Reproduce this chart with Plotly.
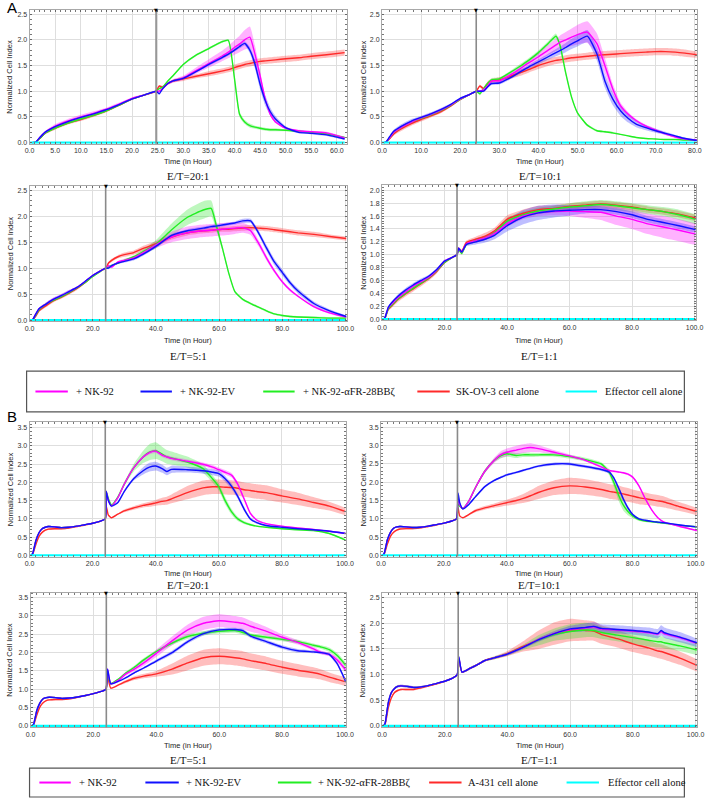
import plotly.graph_objects as go

# ---------------- Panel A : SK-OV-3 target cells ----------------
# E/T = 20:1
A20_T = [0.5, 1.2, 2, 3, 5, 7.5, 10, 12.5, 15, 17.5, 20, 22.5,
         24.7, 25.3, 26, 27, 28, 30, 32.5, 35, 37.5, 38.8, 40, 41, 42, 43, 44, 45, 46, 47, 48, 50, 52.5, 55, 58, 61.5]
A20_NK92 = [0, 0.01, 0.1, 0.2, 0.32, 0.42, 0.5, 0.57, 0.65, 0.75, 0.86, 0.93,
            1.0, 1.0, 1.05, 1.15, 1.2, 1.26, 1.4, 1.54, 1.68, 1.76, 1.85, 1.92, 2.0, 2.05, 1.72, 1.3, 0.85, 0.55, 0.4, 0.28, 0.23, 0.21, 0.19, 0.09]
A20_NK92_SD = [0, 0, 0.01, 0.02, 0.04, 0.04, 0.04, 0.04, 0.03, 0.03, 0.02, 0.02,
               0.01, 0.02, 0.02, 0.02, 0.03, 0.04, 0.06, 0.08, 0.1, 0.12, 0.14, 0.16, 0.19, 0.21, 0.17, 0.1, 0.05, 0.03, 0.02, 0.02, 0.02, 0.02, 0.02, 0.02]
A20_EV = [0, 0.01, 0.1, 0.2, 0.31, 0.41, 0.49, 0.56, 0.64, 0.74, 0.85, 0.93,
          1.0, 0.95, 1.05, 1.15, 1.2, 1.25, 1.38, 1.52, 1.65, 1.72, 1.8, 1.87, 1.93, 1.8, 1.53, 1.14, 0.82, 0.6, 0.46, 0.29, 0.2, 0.18, 0.15, 0.07]
A20_EV_SD = [0, 0, 0.01, 0.01, 0.02, 0.02, 0.02, 0.02, 0.02, 0.02, 0.02, 0.01,
             0.01, 0.02, 0.02, 0.02, 0.02, 0.02, 0.02, 0.03, 0.03, 0.03, 0.03, 0.04, 0.04, 0.06, 0.09, 0.1, 0.1, 0.08, 0.06, 0.03, 0.02, 0.02, 0.02, 0.02]
A20_CAR = [0, 0.01, 0.08, 0.18, 0.28, 0.38, 0.46, 0.53, 0.62, 0.73, 0.85, 0.93,
           1.0, 1.05, 1.08, 1.2, 1.3, 1.52, 1.7, 1.83, 1.96, 1.99, 1.25, 0.55, 0.4, 0.33, 0.3, 0.28, 0.26, 0.25, 0.25, 0.24, 0.22, 0.2, 0.17, 0.1]
A20_CAR_SD = [0, 0, 0.01, 0.01, 0.02, 0.02, 0.02, 0.02, 0.02, 0.02, 0.01, 0.01,
              0.01, 0.02, 0.02, 0.02, 0.02, 0.02, 0.02, 0.02, 0.02, 0.02, 0.04, 0.05, 0.04, 0.04, 0.03, 0.03, 0.03, 0.03, 0.03, 0.02, 0.02, 0.02, 0.02, 0.02]
A20_TUMOR = [0, 0.01, 0.08, 0.18, 0.28, 0.38, 0.45, 0.53, 0.62, 0.73, 0.85, 0.93,
             1.0, 1.1, 1.08, 1.15, 1.2, 1.24, 1.29, 1.34, 1.39, 1.42, 1.46, 1.49, 1.52, 1.54, 1.56, 1.58, 1.59, 1.6, 1.61, 1.63, 1.65, 1.68, 1.71, 1.75]
A20_TUMOR_SD = [0, 0, 0.01, 0.02, 0.03, 0.03, 0.03, 0.03, 0.03, 0.02, 0.02, 0.01,
                0.01, 0.02, 0.03, 0.03, 0.03, 0.04, 0.04, 0.05, 0.05, 0.05, 0.06, 0.06, 0.06, 0.06, 0.06, 0.06, 0.06, 0.06, 0.06, 0.06, 0.06, 0.06, 0.06, 0.06]
A20_EFF_T = [0, 10, 20, 30, 40, 50, 61.5]
A20_EFF = [0, 0, 0, 0, 0, 0, 0]
A20_ADD = 24.7

# E/T = 10:1
A10_T = [0.5, 1, 2, 3, 5, 7.5, 10, 12.5, 15, 17.5, 20, 22.5,
         24.1, 25, 26, 27, 28, 30, 32.5, 35, 37.5, 40, 42.5, 44.5, 45.5, 47, 48.5, 50, 52.5, 55, 57, 59,
         61, 63, 65, 67.5, 70, 72.5, 75, 77.5, 80.5]
A10_NK92 = [0, 0.01, 0.1, 0.2, 0.3, 0.4, 0.48, 0.55, 0.63, 0.73, 0.85, 0.94,
            1.0, 1.0, 1.03, 1.1, 1.2, 1.2, 1.3, 1.42, 1.55, 1.67, 1.8, 1.9, 1.95, 2.0, 2.05, 2.1, 2.15, 1.92, 1.5, 1.05,
            0.72, 0.55, 0.43, 0.32, 0.24, 0.17, 0.11, 0.07, 0.05]
A10_NK92_SD = [0, 0, 0.01, 0.02, 0.03, 0.03, 0.03, 0.03, 0.03, 0.02, 0.02, 0.01,
               0.01, 0.02, 0.02, 0.03, 0.03, 0.03, 0.04, 0.05, 0.06, 0.08, 0.1, 0.12, 0.13, 0.15, 0.17, 0.19, 0.21, 0.2, 0.15, 0.1,
               0.06, 0.04, 0.03, 0.03, 0.03, 0.02, 0.02, 0.02, 0.02]
A10_EV = [0, 0.01, 0.12, 0.22, 0.32, 0.42, 0.49, 0.56, 0.64, 0.74, 0.86, 0.94,
          1.0, 1.0, 1.0, 1.08, 1.15, 1.16, 1.25, 1.36, 1.47, 1.57, 1.67, 1.75, 1.79, 1.85, 1.92, 1.98, 2.07, 1.72, 1.2, 0.85,
          0.62, 0.47, 0.36, 0.29, 0.23, 0.18, 0.13, 0.08, 0.04]
A10_EV_SD = [0, 0, 0.02, 0.03, 0.04, 0.04, 0.03, 0.03, 0.03, 0.02, 0.02, 0.01,
             0.01, 0.02, 0.02, 0.02, 0.03, 0.03, 0.03, 0.04, 0.04, 0.05, 0.06, 0.07, 0.08, 0.09, 0.1, 0.11, 0.12, 0.13, 0.13, 0.12,
             0.1, 0.08, 0.06, 0.05, 0.04, 0.03, 0.02, 0.02, 0.02]
A10_CAR = [0, 0.01, 0.1, 0.2, 0.3, 0.4, 0.47, 0.54, 0.62, 0.72, 0.84, 0.94,
           1.0, 0.95, 1.05, 1.15, 1.22, 1.24, 1.35, 1.47, 1.6, 1.75, 1.93, 2.07, 1.9, 1.35, 0.88, 0.58, 0.34, 0.23, 0.21, 0.19,
           0.16, 0.13, 0.1, 0.08, 0.07, 0.06, 0.06, 0.05, 0.05]
A10_CAR_SD = [0, 0, 0.01, 0.01, 0.02, 0.02, 0.02, 0.02, 0.02, 0.02, 0.01, 0.01,
              0.01, 0.03, 0.03, 0.03, 0.03, 0.03, 0.03, 0.04, 0.04, 0.04, 0.04, 0.05, 0.05, 0.04, 0.03, 0.02, 0.02, 0.02, 0.02, 0.02,
              0.01, 0.01, 0.01, 0.01, 0.01, 0.01, 0.01, 0.01, 0.01]
A10_TUMOR = [0, 0.01, 0.08, 0.17, 0.27, 0.37, 0.45, 0.52, 0.6, 0.71, 0.84, 0.94,
             1.0, 1.1, 1.05, 1.15, 1.2, 1.22, 1.28, 1.35, 1.42, 1.5, 1.56, 1.6, 1.61, 1.63, 1.65, 1.66, 1.68, 1.7, 1.71, 1.72,
             1.73, 1.74, 1.75, 1.76, 1.77, 1.77, 1.76, 1.74, 1.71]
A10_TUMOR_SD = [0, 0, 0.01, 0.03, 0.04, 0.04, 0.04, 0.03, 0.03, 0.02, 0.02, 0.01,
                0.01, 0.03, 0.03, 0.04, 0.04, 0.05, 0.05, 0.06, 0.06, 0.07, 0.07, 0.07, 0.07, 0.07, 0.07, 0.07, 0.07, 0.07, 0.07, 0.07,
                0.07, 0.07, 0.07, 0.07, 0.07, 0.07, 0.07, 0.07, 0.06]
A10_EFF_T = [0, 20, 40, 60, 80.5]
A10_EFF = [0, 0, 0, 0, 0]
A10_ADD = 24.1

# E/T = 5:1
A5_T = [0.5, 1, 2, 3, 5, 7.5, 10, 12.5, 15, 17.5, 20, 22.5,
        24.1, 25, 26, 28, 30, 33, 36, 40, 45, 50, 55, 57.5, 59, 61, 63, 65, 67.5, 70, 72.5, 75,
        77.5, 80, 82.5, 85, 90, 95, 100.3]
A5_NK92 = [0, 0.01, 0.12, 0.22, 0.3, 0.4, 0.47, 0.55, 0.63, 0.74, 0.86, 0.95,
           1.0, 1.05, 1.02, 1.12, 1.15, 1.2, 1.3, 1.45, 1.6, 1.68, 1.72, 1.73, 1.74, 1.75, 1.76, 1.77, 1.78, 1.72, 1.48, 1.2,
           0.95, 0.74, 0.58, 0.46, 0.26, 0.14, 0.06]
A5_NK92_SD = [0, 0, 0.01, 0.02, 0.03, 0.03, 0.03, 0.03, 0.02, 0.02, 0.02, 0.01,
              0.01, 0.02, 0.02, 0.02, 0.03, 0.03, 0.04, 0.06, 0.1, 0.12, 0.12, 0.12, 0.12, 0.12, 0.12, 0.11, 0.1, 0.08, 0.06, 0.05,
              0.04, 0.03, 0.03, 0.02, 0.02, 0.02, 0.02]
A5_EV = [0, 0.01, 0.12, 0.22, 0.3, 0.4, 0.47, 0.55, 0.63, 0.74, 0.86, 0.95,
         1.0, 1.0, 1.05, 1.1, 1.13, 1.18, 1.27, 1.42, 1.63, 1.72, 1.77, 1.8, 1.81, 1.83, 1.85, 1.87, 1.91, 1.91, 1.68, 1.39,
         1.12, 0.92, 0.72, 0.56, 0.32, 0.18, 0.07]
A5_EV_SD = [0, 0, 0.01, 0.02, 0.03, 0.03, 0.03, 0.03, 0.02, 0.02, 0.02, 0.01,
            0.01, 0.02, 0.02, 0.02, 0.02, 0.03, 0.03, 0.03, 0.03, 0.03, 0.03, 0.03, 0.03, 0.03, 0.03, 0.03, 0.04, 0.04, 0.05, 0.06,
            0.06, 0.06, 0.05, 0.05, 0.04, 0.03, 0.02]
A5_CAR = [0, 0.01, 0.1, 0.2, 0.3, 0.38, 0.45, 0.53, 0.62, 0.72, 0.84, 0.94,
          1.0, 1.02, 1.05, 1.1, 1.15, 1.22, 1.32, 1.46, 1.74, 1.98, 2.12, 2.15, 1.85, 1.4, 0.92, 0.55, 0.4, 0.32, 0.25, 0.18,
          0.12, 0.09, 0.07, 0.06, 0.05, 0.04, 0.04]
A5_CAR_SD = [0, 0, 0.01, 0.01, 0.02, 0.02, 0.02, 0.02, 0.02, 0.02, 0.01, 0.01,
             0.01, 0.02, 0.02, 0.02, 0.02, 0.03, 0.04, 0.08, 0.12, 0.15, 0.17, 0.15, 0.1, 0.05, 0.03, 0.02, 0.02, 0.02, 0.02, 0.02,
             0.02, 0.02, 0.02, 0.02, 0.02, 0.02, 0.02]
A5_TUMOR = [0, 0.01, 0.08, 0.18, 0.27, 0.37, 0.44, 0.52, 0.61, 0.72, 0.85, 0.95,
            1.0, 1.1, 1.15, 1.22, 1.26, 1.3, 1.38, 1.47, 1.6, 1.68, 1.72, 1.73, 1.74, 1.75, 1.75, 1.76, 1.77, 1.78, 1.77, 1.76,
            1.74, 1.72, 1.7, 1.68, 1.65, 1.61, 1.57]
A5_TUMOR_SD = [0, 0, 0.01, 0.02, 0.03, 0.03, 0.03, 0.03, 0.03, 0.02, 0.02, 0.01,
               0.01, 0.02, 0.03, 0.03, 0.04, 0.04, 0.05, 0.05, 0.05, 0.05, 0.05, 0.05, 0.05, 0.05, 0.05, 0.05, 0.05, 0.05, 0.05, 0.05,
               0.05, 0.05, 0.05, 0.05, 0.05, 0.04, 0.04]
A5_EFF_T = [0, 25, 50, 75, 100.3]
A5_EFF = [0, 0, 0, 0, 0]
A5_ADD = 24.1

# E/T = 1:1
A1_T = [0.5, 1, 2, 3, 5, 7.5, 10, 12.5, 15, 17.5, 20, 22.5,
        24, 24.5, 25.5, 27, 30, 33, 36, 40, 45, 50, 55, 60, 65, 70, 75, 80, 85, 90, 95, 100.3]
A1_NK92 = [0, 0.03, 0.18, 0.23, 0.33, 0.42, 0.51, 0.58, 0.65, 0.76, 0.9, 0.96,
           1.0, 1.1, 1.04, 1.17, 1.22, 1.26, 1.33, 1.48, 1.6, 1.65, 1.67, 1.68, 1.67, 1.66, 1.6, 1.55, 1.48, 1.43, 1.38, 1.32]
A1_NK92_SD = [0, 0.01, 0.02, 0.02, 0.03, 0.03, 0.03, 0.03, 0.02, 0.02, 0.02, 0.01,
              0.01, 0.02, 0.02, 0.02, 0.03, 0.03, 0.04, 0.05, 0.05, 0.05, 0.06, 0.08, 0.1, 0.12, 0.14, 0.15, 0.16, 0.17, 0.17, 0.17]
A1_EV = [0, 0.03, 0.18, 0.25, 0.35, 0.45, 0.53, 0.6, 0.67, 0.77, 0.9, 0.96,
         1.0, 1.1, 1.04, 1.16, 1.2, 1.24, 1.3, 1.45, 1.58, 1.65, 1.68, 1.69, 1.7, 1.7, 1.67, 1.62, 1.55, 1.5, 1.45, 1.39]
A1_EV_SD = [0, 0.01, 0.02, 0.02, 0.03, 0.03, 0.03, 0.03, 0.02, 0.02, 0.02, 0.01,
            0.01, 0.02, 0.03, 0.03, 0.04, 0.05, 0.06, 0.09, 0.11, 0.11, 0.1, 0.08, 0.06, 0.05, 0.05, 0.05, 0.05, 0.05, 0.05, 0.05]
A1_CAR = [0, 0.02, 0.16, 0.21, 0.31, 0.4, 0.48, 0.56, 0.64, 0.75, 0.88, 0.96,
          1.0, 1.08, 1.02, 1.16, 1.22, 1.26, 1.34, 1.52, 1.62, 1.68, 1.71, 1.74, 1.76, 1.78, 1.76, 1.73, 1.7, 1.67, 1.62, 1.55]
A1_CAR_SD = [0, 0.01, 0.01, 0.02, 0.02, 0.02, 0.02, 0.02, 0.02, 0.02, 0.01, 0.01,
             0.01, 0.02, 0.02, 0.02, 0.03, 0.03, 0.04, 0.05, 0.05, 0.05, 0.05, 0.06, 0.07, 0.07, 0.07, 0.07, 0.07, 0.07, 0.08, 0.08]
A1_TUMOR = [0, 0.02, 0.15, 0.2, 0.3, 0.39, 0.47, 0.55, 0.63, 0.74, 0.88, 0.96,
            1.0, 1.1, 1.05, 1.19, 1.24, 1.29, 1.37, 1.55, 1.64, 1.7, 1.72, 1.75, 1.77, 1.79, 1.77, 1.74, 1.7, 1.67, 1.63, 1.57]
A1_TUMOR_SD = [0, 0.01, 0.02, 0.03, 0.04, 0.04, 0.04, 0.04, 0.03, 0.03, 0.02, 0.01,
               0.01, 0.02, 0.03, 0.03, 0.04, 0.05, 0.05, 0.06, 0.06, 0.06, 0.05, 0.05, 0.05, 0.05, 0.05, 0.05, 0.05, 0.05, 0.05, 0.05]
A1_EFF_T = [0, 25, 50, 75, 100.3]
A1_EFF = [0, 0, 0, 0, 0]
A1_ADD = 24.0

# ---------------- Panel B : A-431 target cells ----------------
# E/T = 20:1
B20_T = [0.5, 1, 2, 3, 4, 5, 6, 8, 10, 12.5, 15, 17.5, 20, 22.5,
         24, 24.3, 25, 26, 28, 30, 33, 36, 38, 40, 42, 43.5, 45, 50, 55, 58, 60, 62, 64, 66,
         68, 70, 72, 75, 80, 85, 90, 95, 100.2]
B20_NK92 = [0, 0.05, 0.4, 0.62, 0.73, 0.77, 0.79, 0.78, 0.76, 0.77, 0.8, 0.84, 0.88, 0.94,
            1.0, 1.75, 1.5, 1.36, 1.58, 1.95, 2.4, 2.7, 2.82, 2.86, 2.75, 2.7, 2.66, 2.58, 2.5, 2.42, 2.35, 2.28, 2.2, 1.95,
            1.55, 1.15, 0.97, 0.87, 0.8, 0.75, 0.71, 0.66, 0.6]
B20_NK92_SD = [0, 0.01, 0.02, 0.02, 0.02, 0.02, 0.02, 0.02, 0.02, 0.02, 0.01, 0.01, 0.01, 0.01,
               0.01, 0.03, 0.03, 0.03, 0.03, 0.03, 0.03, 0.04, 0.05, 0.05, 0.05, 0.05, 0.05, 0.05, 0.05, 0.06, 0.06, 0.06, 0.06, 0.06,
               0.05, 0.04, 0.03, 0.02, 0.02, 0.02, 0.02, 0.02, 0.02]
B20_EV = [0, 0.05, 0.4, 0.62, 0.73, 0.77, 0.79, 0.78, 0.76, 0.77, 0.8, 0.84, 0.88, 0.94,
          1.0, 1.75, 1.5, 1.35, 1.45, 1.75, 2.1, 2.32, 2.42, 2.45, 2.38, 2.3, 2.36, 2.35, 2.32, 2.28, 2.24, 2.1, 1.9, 1.62,
          1.27, 1.0, 0.9, 0.82, 0.77, 0.73, 0.7, 0.66, 0.6]
B20_EV_SD = [0, 0.01, 0.02, 0.02, 0.02, 0.02, 0.02, 0.02, 0.02, 0.02, 0.01, 0.01, 0.01, 0.01,
             0.01, 0.03, 0.03, 0.03, 0.03, 0.04, 0.05, 0.1, 0.12, 0.12, 0.11, 0.1, 0.1, 0.08, 0.08, 0.08, 0.08, 0.08, 0.08, 0.07,
             0.06, 0.04, 0.03, 0.02, 0.02, 0.02, 0.02, 0.02, 0.02]
B20_CAR = [0, 0.05, 0.4, 0.62, 0.73, 0.77, 0.79, 0.78, 0.76, 0.77, 0.8, 0.84, 0.88, 0.94,
           1.0, 1.75, 1.55, 1.38, 1.6, 1.95, 2.4, 2.7, 2.83, 2.87, 2.78, 2.7, 2.67, 2.56, 2.38, 2.1, 1.88, 1.5, 1.2, 1.0,
           0.9, 0.84, 0.8, 0.77, 0.73, 0.7, 0.68, 0.6, 0.42]
B20_CAR_SD = [0, 0.01, 0.02, 0.02, 0.02, 0.02, 0.02, 0.02, 0.02, 0.02, 0.01, 0.01, 0.01, 0.01,
              0.01, 0.03, 0.03, 0.03, 0.04, 0.06, 0.1, 0.17, 0.22, 0.23, 0.2, 0.19, 0.18, 0.15, 0.12, 0.1, 0.1, 0.1, 0.08, 0.06,
              0.04, 0.03, 0.02, 0.02, 0.02, 0.02, 0.02, 0.02, 0.02]
B20_TUMOR = [0, 0.03, 0.3, 0.52, 0.63, 0.69, 0.72, 0.73, 0.73, 0.75, 0.79, 0.83, 0.88, 0.94,
             1.0, 1.35, 1.1, 1.03, 1.13, 1.22, 1.3, 1.37, 1.4, 1.44, 1.48, 1.5, 1.55, 1.72, 1.85, 1.88, 1.88, 1.87, 1.86, 1.84,
             1.8, 1.78, 1.75, 1.72, 1.63, 1.55, 1.45, 1.35, 1.2]
B20_TUMOR_SD = [0, 0.01, 0.02, 0.02, 0.02, 0.02, 0.02, 0.02, 0.02, 0.02, 0.01, 0.01, 0.01, 0.01,
                0.01, 0.02, 0.02, 0.02, 0.02, 0.04, 0.05, 0.06, 0.07, 0.08, 0.1, 0.11, 0.12, 0.18, 0.2, 0.2, 0.2, 0.2, 0.2, 0.2,
                0.2, 0.2, 0.2, 0.2, 0.18, 0.17, 0.15, 0.12, 0.1]
B20_EFF_T = [0, 25, 50, 75, 100.2]
B20_EFF = [0, 0, 0, 0, 0]
B20_ADD = 24.0

# E/T = 10:1
B10_T = [0.5, 1, 2, 3, 4, 5, 6, 8, 10, 12.5, 15, 17.5, 20, 22.5,
         24, 24.5, 25, 26, 28, 30, 33, 36, 38, 40, 43, 45, 47.5, 50, 55, 60, 65, 70, 72.5, 74,
         75.5, 77, 78.5, 80, 82, 84, 86, 88, 90, 95, 100.4]
B10_NK92 = [0, 0.05, 0.42, 0.63, 0.74, 0.78, 0.79, 0.78, 0.76, 0.77, 0.8, 0.84, 0.88, 0.94,
            1.0, 1.6, 1.4, 1.28, 1.5, 1.85, 2.3, 2.6, 2.75, 2.82, 2.88, 2.92, 2.95, 2.92, 2.82, 2.72, 2.6, 2.42, 2.32, 2.3,
            2.28, 2.26, 2.22, 2.14, 1.9, 1.55, 1.25, 1.03, 0.91, 0.79, 0.68]
B10_NK92_SD = [0, 0.01, 0.02, 0.02, 0.02, 0.02, 0.02, 0.02, 0.02, 0.02, 0.01, 0.01, 0.01, 0.01,
               0.01, 0.03, 0.03, 0.03, 0.03, 0.04, 0.05, 0.07, 0.09, 0.1, 0.12, 0.12, 0.12, 0.1, 0.06, 0.04, 0.03, 0.03, 0.03, 0.03,
               0.03, 0.03, 0.03, 0.03, 0.03, 0.03, 0.02, 0.02, 0.02, 0.02, 0.02]
B10_EV = [0, 0.05, 0.42, 0.63, 0.74, 0.78, 0.79, 0.78, 0.76, 0.77, 0.8, 0.84, 0.88, 0.94,
          1.0, 1.7, 1.45, 1.27, 1.4, 1.6, 1.88, 2.05, 2.13, 2.2, 2.27, 2.32, 2.38, 2.44, 2.5, 2.5, 2.43, 2.35, 2.28, 2.12,
          1.85, 1.55, 1.3, 1.12, 1.0, 0.96, 0.93, 0.91, 0.89, 0.83, 0.78]
B10_EV_SD = [0, 0.01, 0.02, 0.02, 0.02, 0.02, 0.02, 0.02, 0.02, 0.02, 0.01, 0.01, 0.01, 0.01,
             0.01, 0.03, 0.03, 0.03, 0.03, 0.03, 0.03, 0.03, 0.03, 0.03, 0.03, 0.03, 0.03, 0.03, 0.04, 0.04, 0.04, 0.04, 0.04, 0.05,
             0.06, 0.06, 0.05, 0.04, 0.03, 0.02, 0.02, 0.02, 0.02, 0.02, 0.02]
B10_CAR = [0, 0.05, 0.42, 0.63, 0.74, 0.78, 0.79, 0.78, 0.76, 0.77, 0.8, 0.84, 0.88, 0.94,
           1.0, 1.4, 1.35, 1.28, 1.5, 1.85, 2.3, 2.6, 2.72, 2.78, 2.73, 2.75, 2.75, 2.75, 2.75, 2.7, 2.62, 2.5, 2.28, 2.0,
           1.65, 1.38, 1.2, 1.08, 0.98, 0.94, 0.92, 0.9, 0.88, 0.82, 0.78]
B10_CAR_SD = [0, 0.01, 0.02, 0.02, 0.02, 0.02, 0.02, 0.02, 0.02, 0.02, 0.01, 0.01, 0.01, 0.01,
              0.01, 0.03, 0.03, 0.03, 0.03, 0.04, 0.05, 0.05, 0.07, 0.08, 0.07, 0.06, 0.06, 0.05, 0.05, 0.05, 0.05, 0.05, 0.08, 0.12,
              0.15, 0.15, 0.1, 0.06, 0.04, 0.03, 0.03, 0.02, 0.02, 0.02, 0.02]
B10_TUMOR = [0, 0.03, 0.3, 0.52, 0.63, 0.69, 0.72, 0.73, 0.73, 0.75, 0.79, 0.83, 0.88, 0.94,
             1.0, 1.3, 1.08, 1.03, 1.12, 1.22, 1.3, 1.36, 1.4, 1.44, 1.5, 1.55, 1.63, 1.72, 1.85, 1.9, 1.87, 1.8, 1.75, 1.73,
             1.71, 1.68, 1.65, 1.62, 1.58, 1.55, 1.52, 1.49, 1.46, 1.33, 1.2]
B10_TUMOR_SD = [0, 0.01, 0.02, 0.02, 0.02, 0.02, 0.02, 0.02, 0.02, 0.02, 0.01, 0.01, 0.01, 0.01,
                0.01, 0.02, 0.02, 0.02, 0.02, 0.04, 0.05, 0.06, 0.07, 0.08, 0.1, 0.12, 0.15, 0.18, 0.2, 0.22, 0.21, 0.2, 0.2, 0.2,
                0.2, 0.19, 0.19, 0.18, 0.18, 0.17, 0.16, 0.16, 0.15, 0.12, 0.1]
B10_EFF_T = [0, 25, 50, 75, 100.4]
B10_EFF = [0, 0, 0, 0, 0]
B10_ADD = 24.3

# E/T = 5:1
B5_T = [0.5, 1, 2, 3, 4, 5, 6, 8, 10, 12.5, 15, 17.5, 20, 22.5,
        24, 24.5, 25.5, 28, 30, 33, 36, 40, 45, 50, 55, 60, 65, 67.5, 70, 75, 80, 85, 90, 92.5,
        95, 97.5, 100.3]
B5_NK92 = [0, 0.05, 0.42, 0.63, 0.74, 0.77, 0.78, 0.77, 0.75, 0.76, 0.79, 0.83, 0.88, 0.94,
           1.0, 1.55, 1.15, 1.25, 1.4, 1.55, 1.72, 1.98, 2.32, 2.62, 2.8, 2.87, 2.83, 2.8, 2.72, 2.58, 2.42, 2.28, 2.1, 2.0,
           1.95, 1.8, 1.52]
B5_NK92_SD = [0, 0.01, 0.02, 0.02, 0.02, 0.02, 0.02, 0.02, 0.02, 0.02, 0.01, 0.01, 0.01, 0.01,
              0.01, 0.03, 0.03, 0.04, 0.05, 0.06, 0.08, 0.1, 0.12, 0.15, 0.18, 0.18, 0.17, 0.16, 0.15, 0.12, 0.08, 0.06, 0.05, 0.05,
              0.05, 0.06, 0.08]
B5_EV = [0, 0.05, 0.42, 0.63, 0.74, 0.77, 0.78, 0.77, 0.75, 0.76, 0.79, 0.83, 0.88, 0.94,
         1.0, 1.55, 1.15, 1.22, 1.3, 1.45, 1.58, 1.77, 2.0, 2.3, 2.52, 2.62, 2.63, 2.6, 2.45, 2.3, 2.15, 2.05, 2.02, 2.0,
         1.95, 1.7, 1.2]
B5_EV_SD = [0, 0.01, 0.02, 0.02, 0.02, 0.02, 0.02, 0.02, 0.02, 0.02, 0.01, 0.01, 0.01, 0.01,
            0.01, 0.03, 0.03, 0.03, 0.03, 0.03, 0.03, 0.04, 0.05, 0.05, 0.05, 0.05, 0.05, 0.05, 0.05, 0.05, 0.05, 0.05, 0.04, 0.04,
            0.04, 0.05, 0.06]
B5_CAR = [0, 0.05, 0.42, 0.63, 0.74, 0.77, 0.78, 0.77, 0.75, 0.76, 0.79, 0.83, 0.88, 0.94,
          1.0, 1.4, 1.15, 1.28, 1.42, 1.6, 1.8, 2.03, 2.26, 2.44, 2.53, 2.58, 2.6, 2.55, 2.48, 2.42, 2.36, 2.3, 2.2, 2.15,
          2.08, 1.92, 1.65]
B5_CAR_SD = [0, 0.01, 0.02, 0.02, 0.02, 0.02, 0.02, 0.02, 0.02, 0.02, 0.01, 0.01, 0.01, 0.01,
             0.01, 0.03, 0.03, 0.03, 0.04, 0.04, 0.05, 0.05, 0.05, 0.06, 0.06, 0.06, 0.06, 0.06, 0.05, 0.05, 0.05, 0.05, 0.05, 0.05,
             0.06, 0.07, 0.08]
B5_TUMOR = [0, 0.03, 0.3, 0.52, 0.63, 0.69, 0.71, 0.72, 0.72, 0.74, 0.78, 0.83, 0.88, 0.94,
            1.0, 1.35, 1.03, 1.12, 1.2, 1.3, 1.36, 1.42, 1.55, 1.72, 1.86, 1.9, 1.86, 1.83, 1.78, 1.7, 1.6, 1.52, 1.45, 1.4,
            1.33, 1.27, 1.2]
B5_TUMOR_SD = [0, 0.01, 0.02, 0.02, 0.02, 0.02, 0.02, 0.02, 0.02, 0.02, 0.01, 0.01, 0.01, 0.01,
               0.01, 0.02, 0.02, 0.02, 0.04, 0.05, 0.06, 0.08, 0.15, 0.2, 0.22, 0.22, 0.21, 0.21, 0.2, 0.19, 0.18, 0.17, 0.15, 0.14,
               0.13, 0.12, 0.12]
B5_EFF_T = [0, 25, 50, 75, 100.3]
B5_EFF = [0, 0, 0, 0, 0]
B5_ADD = 24.1

# E/T = 1:1
B1_T = [0.5, 1, 2, 3, 4, 5, 6, 8, 10, 12.5, 15, 17.5, 20, 22.5,
        24, 24.5, 25.5, 28, 30, 33, 36, 40, 45, 50, 55, 60, 65, 67.5, 70, 75, 80, 85, 88, 89,
        90, 95, 100.4]
B1_NK92 = [0, 0.05, 0.45, 0.65, 0.73, 0.77, 0.78, 0.77, 0.75, 0.76, 0.79, 0.83, 0.87, 0.93,
           1.0, 1.33, 1.05, 1.12, 1.18, 1.28, 1.33, 1.4, 1.53, 1.68, 1.8, 1.88, 1.91, 1.93, 1.89, 1.87, 1.85, 1.82, 1.79, 1.84,
           1.8, 1.72, 1.61]
B1_NK92_SD = [0, 0.01, 0.02, 0.02, 0.02, 0.02, 0.02, 0.02, 0.02, 0.02, 0.01, 0.01, 0.01, 0.01,
              0.01, 0.02, 0.02, 0.02, 0.02, 0.02, 0.02, 0.02, 0.02, 0.03, 0.03, 0.03, 0.03, 0.03, 0.03, 0.03, 0.03, 0.03, 0.03, 0.03,
              0.03, 0.03, 0.03]
B1_EV = [0, 0.05, 0.45, 0.65, 0.73, 0.77, 0.78, 0.77, 0.75, 0.76, 0.79, 0.83, 0.87, 0.93,
         1.0, 1.35, 1.05, 1.12, 1.18, 1.28, 1.33, 1.4, 1.53, 1.68, 1.8, 1.89, 1.92, 1.94, 1.9, 1.88, 1.86, 1.83, 1.8, 1.86,
         1.82, 1.73, 1.62]
B1_EV_SD = [0, 0.01, 0.02, 0.02, 0.02, 0.02, 0.02, 0.02, 0.02, 0.02, 0.01, 0.01, 0.01, 0.01,
            0.01, 0.02, 0.02, 0.02, 0.02, 0.02, 0.02, 0.03, 0.03, 0.04, 0.05, 0.06, 0.08, 0.08, 0.08, 0.08, 0.08, 0.09, 0.09, 0.1,
            0.1, 0.1, 0.08]
B1_CAR = [0, 0.05, 0.45, 0.65, 0.73, 0.77, 0.78, 0.77, 0.75, 0.76, 0.79, 0.83, 0.87, 0.93,
          1.0, 1.3, 1.05, 1.12, 1.18, 1.28, 1.33, 1.4, 1.53, 1.67, 1.78, 1.84, 1.87, 1.86, 1.82, 1.77, 1.72, 1.67, 1.64, 1.64,
          1.62, 1.56, 1.48]
B1_CAR_SD = [0, 0.01, 0.02, 0.02, 0.02, 0.02, 0.02, 0.02, 0.02, 0.02, 0.01, 0.01, 0.01, 0.01,
             0.01, 0.02, 0.02, 0.02, 0.02, 0.02, 0.03, 0.03, 0.05, 0.1, 0.12, 0.14, 0.14, 0.13, 0.12, 0.12, 0.12, 0.12, 0.11, 0.11,
             0.11, 0.1, 0.1]
B1_TUMOR = [0, 0.03, 0.35, 0.55, 0.65, 0.69, 0.71, 0.71, 0.71, 0.74, 0.78, 0.82, 0.87, 0.93,
            1.0, 1.3, 1.05, 1.12, 1.18, 1.28, 1.33, 1.41, 1.55, 1.68, 1.8, 1.87, 1.86, 1.85, 1.78, 1.7, 1.6, 1.52, 1.46, 1.45,
            1.43, 1.32, 1.18]
B1_TUMOR_SD = [0, 0.01, 0.02, 0.02, 0.02, 0.02, 0.02, 0.02, 0.02, 0.02, 0.01, 0.01, 0.01, 0.01,
               0.01, 0.02, 0.02, 0.02, 0.02, 0.02, 0.03, 0.05, 0.1, 0.18, 0.22, 0.22, 0.2, 0.19, 0.18, 0.17, 0.16, 0.15, 0.14, 0.14,
               0.14, 0.13, 0.12]
B1_EFF_T = [0, 25, 50, 75, 100.4]
B1_EFF = [0, 0, 0, 0, 0]
B1_ADD = 24.3

NAMES_A = ["+ NK-92", "+ NK-92-EV", "+ NK-92-αFR-28BBζ", "SK-OV-3 cell alone", "Effector cell alone"]
NAMES_B = ["+ NK-92", "+ NK-92-EV", "+ NK-92-αFR-28BBζ", "A-431 cell alone", "Effector cell alone"]
LINE_COLORS = ["#ff00ff", "#1010ff", "#22ee22", "#ff2a2a", "#00ffff"]
BAND_COLORS = ["rgba(255,0,255,0.30)", "rgba(40,40,255,0.30)", "rgba(40,230,40,0.30)",
               "rgba(255,40,40,0.30)", "rgba(0,255,255,0.3)"]
DRAW_ORDER = [3, 2, 0, 1]

W, H = 713, 800
SANS = "Liberation Sans, Arial, sans-serif"
SERIF = "Liberation Serif, Times New Roman, serif"

# panel: data, frame box in px (left, right, top, bottom), x max, y range, x dtick, x minor, y dtick, caption,
#        y of "Time" label and caption in px
PANELS = [
    (A20_T, [A20_NK92, A20_EV, A20_CAR, A20_TUMOR], [A20_NK92_SD, A20_EV_SD, A20_CAR_SD, A20_TUMOR_SD],
     A20_EFF_T, A20_EFF, A20_ADD, (25, 348, 10, 144), 61.9, (-0.02, 2.58), 5, 1, 0.5, "E/T=20:1", 162, 176),
    (A10_T, [A10_NK92, A10_EV, A10_CAR, A10_TUMOR], [A10_NK92_SD, A10_EV_SD, A10_CAR_SD, A10_TUMOR_SD],
     A10_EFF_T, A10_EFF, A10_ADD, (384, 705, 10, 144), 80.6, (-0.02, 2.58), 10, 2, 0.5, "E/T=10:1", 162, 176),
    (A5_T, [A5_NK92, A5_EV, A5_CAR, A5_TUMOR], [A5_NK92_SD, A5_EV_SD, A5_CAR_SD, A5_TUMOR_SD],
     A5_EFF_T, A5_EFF, A5_ADD, (25, 348, 186, 322), 100.4, (-0.02, 2.59), 20, 2, 0.5, "E/T=5:1", 341, 357),
    (A1_T, [A1_NK92, A1_EV, A1_CAR, A1_TUMOR], [A1_NK92_SD, A1_EV_SD, A1_CAR_SD, A1_TUMOR_SD],
     A1_EFF_T, A1_EFF, A1_ADD, (384, 704, 185, 321), 100.5, (-0.017, 2.09), 20, 2, 0.2, "E/T=1:1", 341, 357),
    (B20_T, [B20_NK92, B20_EV, B20_CAR, B20_TUMOR], [B20_NK92_SD, B20_EV_SD, B20_CAR_SD, B20_TUMOR_SD],
     B20_EFF_T, B20_EFF, B20_ADD, (25, 347, 423, 558), 100.2, (-0.035, 3.66), 20, 2, 0.5, "E/T=20:1", 575, 586),
    (B10_T, [B10_NK92, B10_EV, B10_CAR, B10_TUMOR], [B10_NK92_SD, B10_EV_SD, B10_CAR_SD, B10_TUMOR_SD],
     B10_EFF_T, B10_EFF, B10_ADD, (383, 705, 423, 558), 100.5, (-0.035, 3.65), 20, 2, 0.5, "E/T=10:1", 575, 586),
    (B5_T, [B5_NK92, B5_EV, B5_CAR, B5_TUMOR], [B5_NK92_SD, B5_EV_SD, B5_CAR_SD, B5_TUMOR_SD],
     B5_EFF_T, B5_EFF, B5_ADD, (26, 347, 594, 729), 100.2, (-0.035, 3.64), 20, 2, 0.5, "E/T=5:1", 747, 762),
    (B1_T, [B1_NK92, B1_EV, B1_CAR, B1_TUMOR], [B1_NK92_SD, B1_EV_SD, B1_CAR_SD, B1_TUMOR_SD],
     B1_EFF_T, B1_EFF, B1_ADD, (384, 705, 594, 729), 100.5, (-0.025, 2.6), 20, 2, 0.5, "E/T=1:1", 747, 762),
]


def px_x(x):
    return x / W


def px_y(y):
    return 1 - y / H


def note(x, y, text, font, xanchor="center", yanchor="middle", **kw):
    # paper-anchored text placed by pixel position
    return dict(x=px_x(x), y=px_y(y), xref="paper", yref="paper", text=text, showarrow=False,
                xanchor=xanchor, yanchor=yanchor, font=font, **kw)


fig = go.Figure()
annotations = []
shapes = []

for i, (t, vals, sds, eff_t, eff, add, box, xmax, yr, xdt, xminor, ydt, caption, ty, cy) in enumerate(PANELS, start=1):
    xa = "x" if i == 1 else f"x{i}"
    ya = "y" if i == 1 else f"y{i}"
    left, right, top, bottom = box

    # error bands
    for j in DRAW_ORDER:
        upper = [v + e for v, e in zip(vals[j], sds[j])]
        lower = [v - e for v, e in zip(vals[j], sds[j])]
        fig.add_trace(go.Scatter(x=t, y=upper, mode="lines", line=dict(width=0, shape="spline", smoothing=0.5),
                                 xaxis=xa, yaxis=ya, hoverinfo="skip", showlegend=False))
        fig.add_trace(go.Scatter(x=t, y=lower, mode="lines", line=dict(width=0, shape="spline", smoothing=0.5),
                                 fill="tonexty", fillcolor=BAND_COLORS[j],
                                 xaxis=xa, yaxis=ya, hoverinfo="skip", showlegend=False))
    # mean curves
    for j in DRAW_ORDER:
        fig.add_trace(go.Scatter(x=t, y=vals[j], mode="lines",
                                 line=dict(color=LINE_COLORS[j], width=1.4, shape="spline", smoothing=0.5),
                                 xaxis=xa, yaxis=ya, showlegend=False,
                                 name=(NAMES_A if i <= 4 else NAMES_B)[j]))
    fig.add_trace(go.Scatter(x=eff_t, y=eff, mode="lines", line=dict(color=LINE_COLORS[4], width=2.2),
                             xaxis=xa, yaxis=ya, showlegend=False, name="Effector cell alone"))

    axis_common = dict(showgrid=True, gridcolor="#dedede", gridwidth=1, zeroline=False,
                       showline=True, linecolor="#a8a8a8", linewidth=1, mirror="ticks",
                       ticks="inside", ticklen=2, tickcolor="#666", tickformat=".1f",
                       tickfont=dict(family=SANS, size=7, color="#333"))
    fig.layout[f"xaxis{'' if i == 1 else i}"] = dict(
        axis_common, domain=[px_x(left), px_x(right)], range=[0, xmax], dtick=xdt, tick0=0, anchor=ya,
        minor=dict(dtick=xminor, ticks="inside", ticklen=2, tickcolor="#777", showgrid=False))
    fig.layout[f"yaxis{'' if i == 1 else i}"] = dict(
        axis_common, domain=[px_y(bottom), px_y(top)], range=list(yr), dtick=ydt, tick0=0, anchor=xa,
        minor=dict(dtick=ydt / 5, ticks="inside", ticklen=2, tickcolor="#777", showgrid=False))

    # compound addition time marker
    shapes.append(dict(type="line", xref=xa, yref=f"{ya} domain", x0=add, x1=add, y0=0, y1=1,
                       line=dict(color="#8a8a8a", width=1.6)))
    annotations.append(dict(x=add, y=1, xref=xa, yref=f"{ya} domain", text="▼", showarrow=False,
                            xanchor="center", yanchor="middle",
                            font=dict(family="DejaVu Sans", size=5, color="black")))

    mid = (left + right) / 2
    annotations.append(note(mid, ty, "Time (in Hour)", dict(family=SANS, size=7.5, color="#222")))
    annotations.append(note(mid, cy, caption, dict(family=SERIF, size=11, color="#111")))
    title_x = 5 if left < 100 else 365
    annotations.append(note(title_x, (top + bottom) / 2, "Normalized Cell Index",
                            dict(family=SANS, size=7.5, color="#222"), textangle=-90))

# panel letters
annotations.append(note(0, 8, "A", dict(family=SANS, size=15, color="black"), xanchor="left"))
annotations.append(note(0, 418, "B", dict(family=SANS, size=15, color="black"), xanchor="left"))

# legend boxes drawn as shapes + text
LEGENDS = [
    (NAMES_A, (22, 692, 372, 413), [(31, 64, 70), (138, 170, 176), (263, 295, 301), (420, 453, 457), (571, 603, 609)]),
    (NAMES_B, (25, 692, 770, 799), [(35, 67, 73), (143, 177, 182), (278, 312, 317), (432, 465, 470), (572, 605, 612)]),
]
for names, (bx0, bx1, by0, by1), items in LEGENDS:
    shapes.append(dict(type="rect", xref="paper", yref="paper", x0=px_x(bx0), x1=px_x(bx1),
                       y0=px_y(by1), y1=px_y(by0), line=dict(color="#555", width=1.2)))
    yc = (by0 + by1) / 2
    for j, (lx0, lx1, tx) in enumerate(items):
        shapes.append(dict(type="line", xref="paper", yref="paper", x0=px_x(lx0), x1=px_x(lx1),
                           y0=px_y(yc), y1=px_y(yc), line=dict(color=LINE_COLORS[j], width=2)))
        annotations.append(note(tx, yc, names[j], dict(family=SERIF, size=10.5, color="#111"), xanchor="left"))

fig.update_layout(width=W, height=H, margin=dict(l=0, r=0, t=0, b=0),
                  paper_bgcolor="white", plot_bgcolor="white", showlegend=False,
                  annotations=annotations, shapes=shapes)

# the page body has a default 8px margin; drop it so the figure sits at the window corner
fig.write_html("out.html", config={"displayModeBar": False},
               post_script="document.body.style.margin = '0';")
